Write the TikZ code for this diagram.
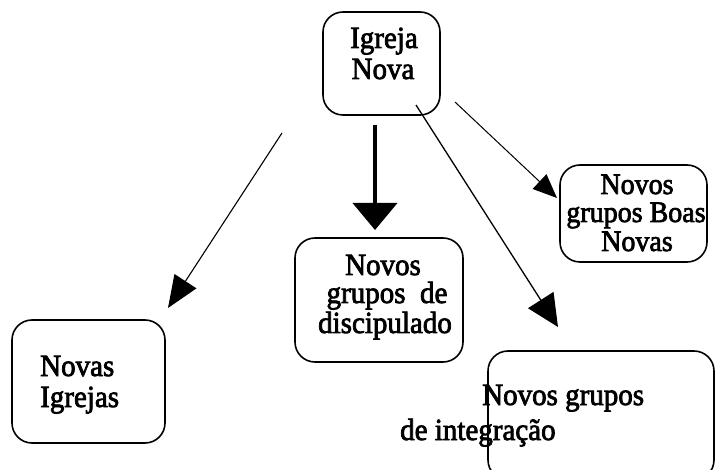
\documentclass[tikz,border=0pt]{standalone}
\usepackage{fontspec}
\usepackage{graphicx}
\setmainfont{Liberation Serif}
\newfontface\semibface{Liberation Serif}[FakeBold=2.5]
\usetikzlibrary{arrows.meta}
\newcommand{\tallt}[1]{\scalebox{1}[1.06]{#1}}
\begin{document}
\begin{tikzpicture}[x=1pt,y=-1pt,
  box/.style={draw, line width=1.6pt, rounded corners=20pt, inner sep=0pt},
  txt/.style={inner sep=0pt, anchor=base, font=\semibface\fontsize{29}{31}\selectfont},
  txtw/.style={txt, anchor=base west},
  thin/.style={line width=1.1pt}]
\useasboundingbox (0,0) rectangle (715,470);
% boxes
\node[box, minimum width=117pt, minimum height=103pt] (top) at (381.5,63.5) {};
\node[box, minimum width=168pt, minimum height=124pt] (disc) at (379,300) {};
\node[box, minimum width=226pt, minimum height=129pt] (integ) at (601,415.5) {};
\node[box, minimum width=153pt, minimum height=123pt] (igr) at (88.5,381.5) {};
\node[box, minimum width=147pt, minimum height=97pt] (boas) at (633.5,213.5) {};
% texts
\node[txt] (t1) at (384,48) {\tallt{Igreja}};
\node[txt] (t2) at (383,79) {\tallt{Nova}};
\node[txt] (d1) at (383,275) {\tallt{Novos}};
\node[txt] (d2) at (387,303) {\tallt{grupos\ \ de}};
\node[txt] (d3) at (385,333) {\tallt{discipulado}};
\node[txt, font=\semibface\fontsize{28}{30}\selectfont] (b1) at (637,194) {\tallt{Novos}};
\node[txt, font=\semibface\fontsize{28}{30}\selectfont] (b2) at (636,222) {\tallt{grupos Boas}};
\node[txt, font=\semibface\fontsize{28}{30}\selectfont] (b3) at (637,251) {\tallt{Novas}};
\node[txtw] (i1) at (40,376) {\tallt{Novas}};
\node[txtw] (i2) at (40,407) {\tallt{Igrejas}};
\node[txtw] (g1) at (482,405) {\tallt{Novos grupos}};
\node[txtw] (g2) at (400,440) {\tallt{de integração}};
% arrow end points
\coordinate (a1s) at (282,133); \coordinate (a1e) at (168,308);
\coordinate (a2s) at (375,125); \coordinate (a2e) at (375,230);
\coordinate (a3s) at (416,105); \coordinate (a3e) at (558,327);
\coordinate (a4s) at (455,102); \coordinate (a4e) at (557,198);
\draw[thin, -{Triangle[length=32pt,width=26pt]}] (a1s) -- (a1e);
\draw[line width=4pt, -{Triangle[length=27pt,width=44pt]}] (a2s) -- (a2e);
\draw[line width=1.3pt, -{Triangle[length=32pt,width=30pt]}] (a3s) -- (a3e);
\draw[line width=1pt, -{Triangle[length=24pt,width=20pt]}] (a4s) -- (a4e);
\end{tikzpicture}
\end{document}
